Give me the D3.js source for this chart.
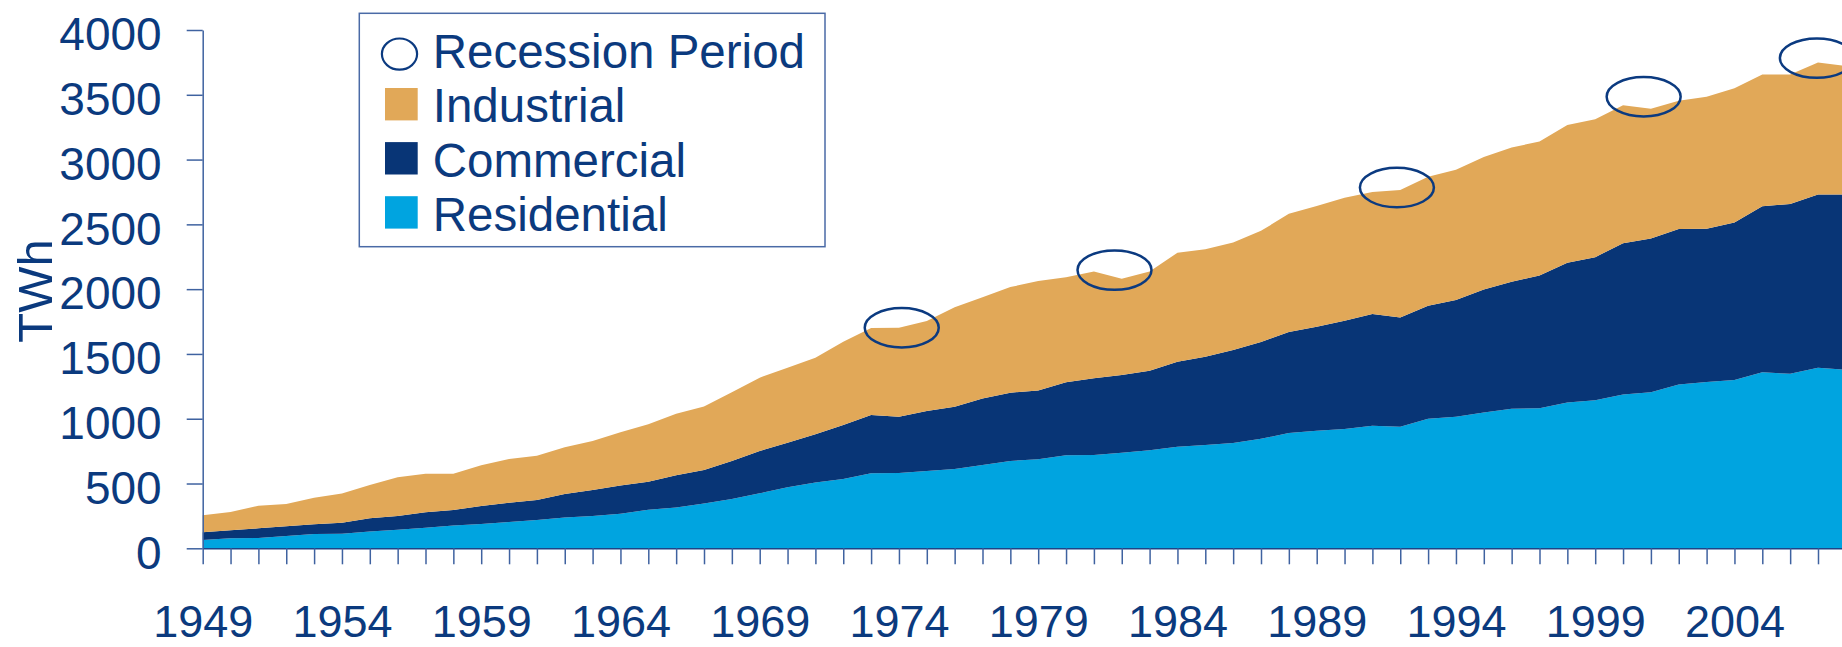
<!DOCTYPE html>
<html>
<head>
<meta charset="utf-8">
<script src="https://cdn.jsdelivr.net/npm/d3@7"></script>
<style>
  html, body { margin: 0; padding: 0; background: #ffffff; }
  svg { display: block; }
  text { font-family: "Liberation Sans", Arial, sans-serif; fill: #0b3a7e; }
</style>
</head>
<body>
<svg id="chart" width="1842" height="647"></svg>
<script>
// Electricity end use by sector (TWh), 1949–2008
const years = d3.range(1949, 2009);

const residential = [
  64, 77, 80, 95, 111, 113, 129, 144, 159, 175,
  188, 203, 219, 237, 249, 267, 298, 314, 345, 381,
  424, 471, 507, 535, 579, 581, 597, 612, 643, 674,
  687, 718, 720, 738, 756, 784, 797, 812, 846, 889,
  907, 920, 946, 938, 1000, 1015, 1049, 1077, 1080, 1126,
  1142, 1186, 1205, 1265, 1283, 1299, 1358, 1347, 1393, 1378
];

const commercial = [
  59, 62, 74, 75, 74, 85, 102, 105, 119, 121,
  139, 149, 154, 182, 201, 217, 216, 249, 259, 293,
  327, 344, 373, 417, 450, 435, 463, 481, 514, 527,
  530, 563, 592, 599, 615, 656, 681, 718, 746, 780,
  803, 836, 862, 844, 872, 901, 949, 980, 1026, 1077,
  1105, 1169, 1185, 1200, 1184, 1215, 1281, 1310, 1338, 1353
];

const industrial = [
  132, 141, 175, 172, 206, 224, 258, 299, 298, 280,
  313, 337, 342, 360, 378, 411, 443, 476, 491, 530,
  566, 579, 591, 643, 671, 687, 694, 767, 780, 815,
  846, 810, 825, 744, 766, 841, 830, 830, 858, 912,
  931, 949, 941, 983, 995, 1005, 1021, 1036, 1034, 1063,
  1065, 1065, 1002, 989, 1017, 1036, 1018, 1000, 1018, 991
];

// Recession markers: centre year and TWh level
const recessionYears  = [1974.1, 1981.74, 1991.88, 2000.74, 2006.96];
const recessionLevels = [1702, 2147, 2784, 3485, 3783];

const yTickValues = [0, 500, 1000, 1500, 2000, 2500, 3000, 3500, 4000];
const xLabelYears = [1949, 1954, 1959, 1964, 1969, 1974, 1979, 1984, 1989, 1994, 1999, 2004];

const seriesKeys   = ["Residential", "Commercial", "Industrial"];
const seriesColors = { Residential: "#00a4e0", Commercial: "#083576", Industrial: "#e1a858" };

// ---- layout ----
const svg = d3.select("#chart");
const x0 = 202.7, yearStep = 27.85;
const x = d3.scaleLinear().domain([1949, 2008]).range([x0, x0 + 59 * yearStep]);
const y = d3.scaleLinear().domain([0, 4000]).range([548.3, 30]);

const rows = years.map((yr, i) => ({
  year: yr,
  Residential: residential[i],
  Commercial: commercial[i],
  Industrial: industrial[i]
}));

const stacked = d3.stack().keys(seriesKeys)(rows);

const area = d3.area()
  .x(d => x(d.data.year))
  .y0(d => y(d[0]))
  .y1(d => y(d[1]));

svg.append("g")
  .selectAll("path")
  .data(stacked)
  .join("path")
  .attr("d", area)
  .attr("fill", d => seriesColors[d.key]);

// ---- axes ----
const axisColor = "#3f62a0";

const yAxis = svg.append("g")
  .attr("transform", `translate(${x0},0)`)
  .call(d3.axisLeft(y)
    .tickValues(yTickValues)
    .tickFormat(d3.format("d"))
    .tickSize(16)
    .tickSizeOuter(0)
    .tickPadding(25));
yAxis.select(".domain").attr("stroke", axisColor).attr("stroke-width", 1.5);
yAxis.selectAll(".tick line").attr("stroke", axisColor).attr("stroke-width", 1.5);
yAxis.selectAll(".tick text")
  .attr("font-size", 46)
  .attr("font-family", "Liberation Sans, Arial, sans-serif")
  .attr("fill", "#0b3a7e")
  .attr("dy", "0.43em");

const xAxis = svg.append("g")
  .attr("transform", `translate(0,${y(0)})`)
  .call(d3.axisBottom(x)
    .tickValues(years)
    .tickSize(16)
    .tickSizeOuter(0)
    .tickPadding(41)
    .tickFormat(d => xLabelYears.includes(d) ? String(d) : ""));
xAxis.select(".domain").attr("stroke", "#1d4487").attr("stroke-width", 1.5);
xAxis.selectAll(".tick line").attr("stroke", axisColor).attr("stroke-width", 1.5);
xAxis.selectAll(".tick text")
  .attr("font-size", 45)
  .attr("font-family", "Liberation Sans, Arial, sans-serif")
  .attr("fill", "#0b3a7e");

// Y axis title
svg.append("text")
  .attr("transform", "translate(51.5,291) rotate(-90)")
  .attr("text-anchor", "middle")
  .attr("font-size", 49)
  .text("TWh");

// ---- recession ellipses ----
svg.append("g")
  .selectAll("ellipse")
  .data(recessionYears.map((yr, i) => ({ yr, v: recessionLevels[i] })))
  .join("ellipse")
  .attr("cx", d => x(d.yr))
  .attr("cy", d => y(d.v))
  .attr("rx", 37)
  .attr("ry", 19.7)
  .attr("fill", "none")
  .attr("stroke", "#0b3a80")
  .attr("stroke-width", 2.5);

// ---- legend ----
const legend = svg.append("g");
legend.append("rect")
  .attr("x", 359.3).attr("y", 13.3)
  .attr("width", 465.7).attr("height", 233.4)
  .attr("fill", "#ffffff")
  .attr("stroke", "#4a6aa6")
  .attr("stroke-width", 1.5);

const legendItems = [
  { label: "Recession Period", type: "ellipse" },
  { label: "Industrial", type: "Industrial" },
  { label: "Commercial", type: "Commercial" },
  { label: "Residential", type: "Residential" }
];
const rowStep = 54.1, firstBaseline = 68.3;

legendItems.forEach((item, i) => {
  const base = firstBaseline + i * rowStep;
  if (item.type === "ellipse") {
    legend.append("ellipse")
      .attr("cx", 399.5).attr("cy", base - 14.2)
      .attr("rx", 17.6).attr("ry", 15.6)
      .attr("fill", "none")
      .attr("stroke", "#0b3a80")
      .attr("stroke-width", 2.2);
  } else {
    legend.append("rect")
      .attr("x", 385).attr("y", base - 34.4)
      .attr("width", 32.7).attr("height", 32.4)
      .attr("fill", seriesColors[item.type]);
  }
  legend.append("text")
    .attr("x", 432.7).attr("y", base)
    .attr("font-size", 47.5)
    .text(item.label);
});
</script>
</body>
</html>
